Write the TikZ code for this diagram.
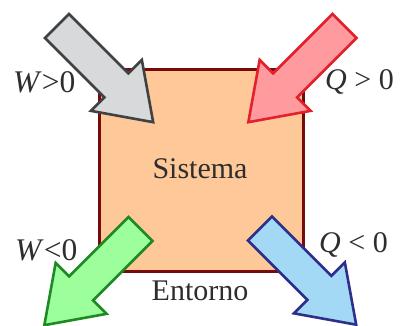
\documentclass[tikz,border=0pt]{standalone}
\usepackage{fontspec}
\setmainfont{Liberation Serif}
\definecolor{boxfill}{HTML}{FFC899}
\definecolor{boxline}{HTML}{7A0A0A}
\definecolor{grayfill}{HTML}{D8D9DA}
\definecolor{grayline}{HTML}{3F4244}
\definecolor{redfill}{HTML}{FF9A9E}
\definecolor{redline}{HTML}{E3202B}
\definecolor{greenfill}{HTML}{9CFF9C}
\definecolor{greenline}{HTML}{1E8A24}
\definecolor{bluefill}{HTML}{A3D9F5}
\definecolor{blueline}{HTML}{2E2F8A}
\definecolor{txt}{HTML}{2E2E2E}
\tikzset{
  bigarrowshape/.style={line width=2.6pt, line join=miter},
  lbl/.style={inner sep=0pt, text=txt, font=\fontsize{30}{30}\selectfont},
  wlbl/.style={lbl, font=\fontsize{31.5}{31.5}\selectfont},
}
\newcommand{\myarrow}[4]{%
  \begin{scope}[shift={(#1)}, rotate=#2]
    \draw[bigarrowshape, draw=#3, fill=#4]
      (0,-17) -- (84,-17) -- (84,-36) -- (136,0) -- (84,36) -- (84,17) -- (0,17) -- cycle;
  \end{scope}}
\begin{document}
\begin{tikzpicture}[x=1pt,y=-1pt]
\useasboundingbox[fill=white] (0,0) rectangle (403,325);
\node[draw=boxline, fill=boxfill, line width=2.6pt, minimum width=204pt, minimum height=202pt, inner sep=0pt, anchor=north west] (sys) at (98,68) {};
\node[lbl, anchor=base] (sistema) at (200,178) {Sistema};
\node[lbl, anchor=base] (entorno) at (200,300) {Entorno};
\node[wlbl, anchor=base west] (wpos) at (13,92) {\textit{W}>0};
\node[lbl, anchor=base west] (qpos) at (325,89) {\textit{Q} > 0};
\node[wlbl, anchor=base west] (wneg) at (15,260) {\textit{W}<0};
\node[lbl, anchor=base west] (qneg) at (319,252) {\textit{Q} < 0};
\myarrow{57,26}{-45}{grayline}{grayfill}
\myarrow{344.5,26}{-135}{redline}{redfill}
\myarrow{140.5,229}{-135}{greenline}{greenfill}
\myarrow{260,228.5}{-45}{blueline}{bluefill}
\end{tikzpicture}
\end{document}
